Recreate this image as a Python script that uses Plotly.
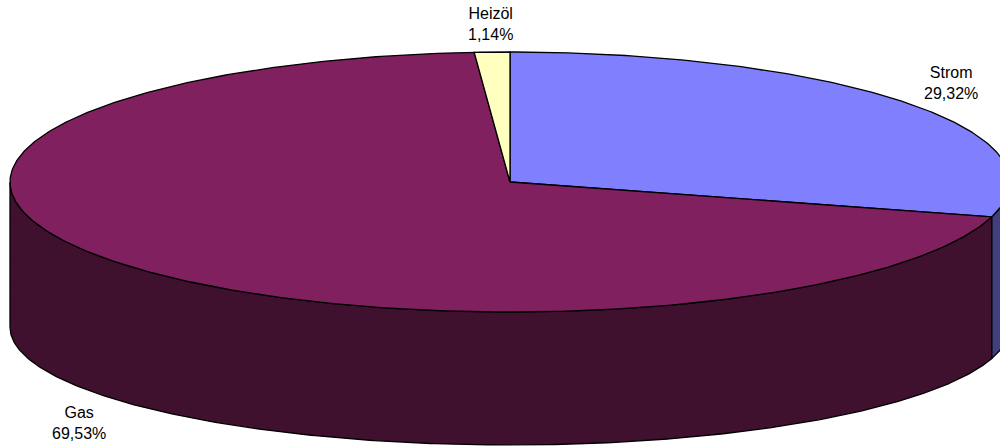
import numpy as np
import plotly.graph_objects as go

# Energy mix shares (percent)
categories = ["Strom", "Gas", "Heizöl"]
shares = [29.32, 69.53, 1.14]

# Face colours: lit top faces and shaded outer walls
top_colors = ["#8080FF", "#80205F", "#FFFFC0"]
side_colors = ["#404080", "#40102F", "#808060"]

# Canvas and 3D pie geometry (pixel units)
W, H = 1000, 448
CX, CY = 510, 182          # centre of the top ellipse
RX, RY = 500, 130          # radii of the top ellipse
DEPTH = 145                # wall height
RY_BOTTOM = 118            # vertical radius of the base ellipse

# Label anchor points
label_pos = {"Strom": (951, 83), "Gas": (79, 423), "Heizöl": (490, 24)}


def top_pt(t):
    return CX + RX * np.sin(t), CY - RY * np.cos(t)


def bottom_pt(t):
    return CX + RX * np.sin(t), CY + DEPTH - RY_BOTTOM * np.cos(t)


fractions = np.array(shares) / np.sum(shares)
edges = np.concatenate([[0.0], np.cumsum(fractions)]) * 2 * np.pi

fig = go.Figure()
line_style = dict(color="black", width=1.3)

# Outer walls: only the front half (pi/2 .. 3pi/2) is visible
for i, name in enumerate(categories):
    a0, a1 = edges[i], edges[i + 1]
    s0, s1 = max(a0, np.pi / 2), min(a1, 3 * np.pi / 2)
    if s1 <= s0:
        continue
    t = np.linspace(s0, s1, 300)
    tx, ty = top_pt(t)
    bx, by = bottom_pt(t[::-1])
    xs = np.concatenate([tx, bx, tx[:1]])
    ys = np.concatenate([ty, by, ty[:1]])
    fig.add_trace(go.Scatter(x=xs, y=ys, mode="lines", fill="toself",
                             fillcolor=side_colors[i], line=line_style,
                             hoverinfo="skip", showlegend=False))

# Top faces
for i, name in enumerate(categories):
    a0, a1 = edges[i], edges[i + 1]
    t = np.linspace(a0, a1, max(int(600 * fractions[i]), 8))
    ax, ay = top_pt(t)
    xs = np.concatenate([[CX], ax, [CX]])
    ys = np.concatenate([[CY], ay, [CY]])
    fig.add_trace(go.Scatter(x=xs, y=ys, mode="lines", fill="toself",
                             fillcolor=top_colors[i], line=line_style,
                             hoverinfo="skip", showlegend=False))

# Category and percentage labels
for name, val in zip(categories, shares):
    x, y = label_pos[name]
    pct = f"{val:.2f}".replace(".", ",") + "%"
    fig.add_annotation(x=x, y=y, text=f"{name}<br>{pct}", showarrow=False,
                       xanchor="center", yanchor="middle",
                       font=dict(family="Liberation Sans, Arial", size=16,
                                 color="black"))

fig.update_layout(
    width=W, height=H,
    margin=dict(l=0, r=0, t=0, b=0),
    paper_bgcolor="white", plot_bgcolor="white",
    xaxis=dict(range=[0, W], visible=False, fixedrange=True),
    yaxis=dict(range=[H, 0], visible=False, fixedrange=True),
    showlegend=False,
)

fig.write_html("out.html")
